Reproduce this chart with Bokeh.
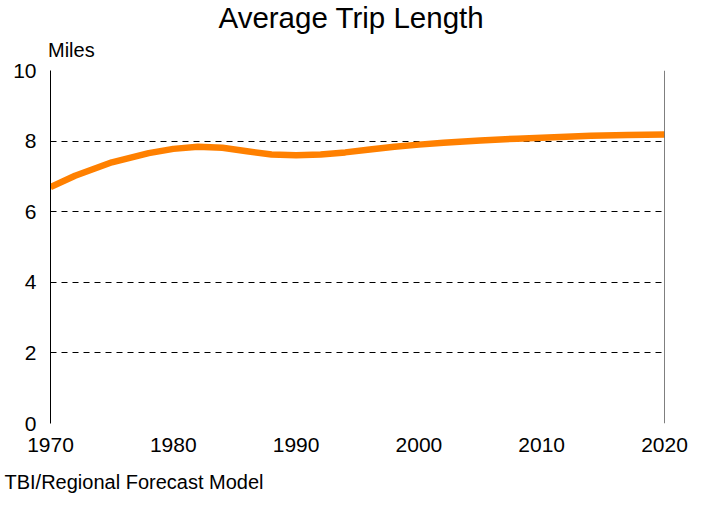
from bokeh.plotting import figure
from bokeh.models import Range1d, Span, FixedTicker, Title, LinearAxis
from bokeh.embed import file_html
from bokeh.resources import INLINE

# Data
years = [1970, 1972, 1975, 1978, 1980, 1982, 1984, 1986, 1988, 1990, 1992,
         1994, 1996, 1998, 2000, 2002, 2005, 2008, 2011, 2014, 2017, 2020]
miles = [6.70, 7.02, 7.40, 7.66, 7.78, 7.84, 7.81, 7.71, 7.62, 7.60, 7.62,
         7.68, 7.76, 7.84, 7.90, 7.95, 8.02, 8.07, 8.11, 8.15, 8.17, 8.19]
x_ticks = [1970, 1980, 1990, 2000, 2010, 2020]
y_ticks = [0, 2, 4, 6, 8, 10]
title_text = "Average Trip Length"
y_label = "Miles"
source_text = "TBI/Regional Forecast Model"
source_anchor = 1976.8   # x position (years) under which the source note is centred

FONT = "Liberation Sans"

p = figure(width=688, height=498, output_backend="svg", toolbar_location=None,
           x_range=Range1d(1970, 2020), y_range=Range1d(0, 10),
           min_border_left=50, min_border_right=24,
           min_border_top=70, min_border_bottom=75)
p.outline_line_color = None
p.background_fill_color = "white"
p.border_fill_color = "white"

p.xgrid.grid_line_color = None
p.ygrid.ticker = FixedTicker(ticks=y_ticks)
p.ygrid.grid_line_color = "black"
p.ygrid.grid_line_dash = "6 5"
p.ygrid.grid_line_width = 1

for ax in (p.xaxis[0], p.yaxis[0]):
    ax.major_tick_line_color = None
    ax.minor_tick_line_color = None
    ax.major_tick_out = 0
    ax.major_tick_in = 0
    ax.major_label_text_font = FONT
    ax.major_label_text_font_size = "21px"
    ax.major_label_text_color = "black"

p.xaxis[0].ticker = FixedTicker(ticks=x_ticks)
p.xaxis[0].axis_line_color = None
p.xaxis[0].major_label_standoff = 14
p.yaxis[0].ticker = FixedTicker(ticks=y_ticks)
p.yaxis[0].axis_line_color = "black"
p.yaxis[0].axis_line_width = 1
p.yaxis[0].major_label_standoff = 14

# source note as a second, line-less axis below the x axis
src_axis = LinearAxis(ticker=FixedTicker(ticks=[source_anchor]),
                      major_label_overrides={source_anchor: source_text},
                      axis_line_color=None, major_tick_line_color=None,
                      minor_tick_line_color=None, major_tick_out=0, major_tick_in=0,
                      major_label_standoff=16, major_label_text_font=FONT,
                      major_label_text_font_size="20px", major_label_text_color="black")
p.add_layout(src_axis, "below")

p.add_layout(Span(location=2020, dimension="height", line_color="black", line_width=1))

p.line(years, miles, line_color="#FF8000", line_width=6.5, line_join="round", line_cap="butt")

# texts above the frame as Title panels (innermost added first)
p.add_layout(Title(text=y_label, align="left", vertical_align="bottom", offset=-2.5, standoff=19,
                   text_font=FONT, text_font_size="20px", text_font_style="normal",
                   text_color="black"), "above")
p.add_layout(Title(text=title_text, align="left", vertical_align="bottom", offset=168, standoff=-12,
                   text_font=FONT, text_font_size="29.5px", text_font_style="normal",
                   text_color="black"), "above")

open("out.html", "w").write(file_html(p, INLINE))
